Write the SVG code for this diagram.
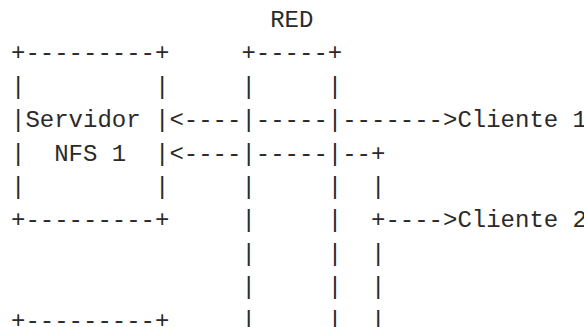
<svg xmlns="http://www.w3.org/2000/svg" width="584" height="327" viewBox="0 0 584 327">
  <style>
    text { font-family: "Liberation Mono", "DejaVu Sans Mono", monospace; font-size: 24px; fill: #2a2a2a; white-space: pre; }
  </style>
  <rect width="584" height="327" fill="#ffffff"/>
  <!-- monospace grid: column x = 11 + 14.4*c, row baseline y = 27 + 33.4*r -->
  <g id="servidor-nfs">
    <text x="11" y="60.4">+---------+</text>
    <text x="11" y="93.8">|         |</text>
    <text x="11" y="127.2">|Servidor |</text>
    <text x="11" y="160.6">|  NFS 1  |</text>
    <text x="11" y="194">|         |</text>
    <text x="11" y="227.4">+---------+</text>
    <text x="11" y="327.6">+---------+</text>
  </g>
  <g id="red">
    <text x="270.2" y="27">RED</text>
    <text x="241.4" y="60.4">+-----+</text>
    <text x="241.4" y="93.8">|     |</text>
    <text x="241.4" y="127.2">|</text>
    <text x="327.8" y="127.2">|</text>
    <text x="241.4" y="160.6">|</text>
    <text x="327.8" y="160.6">|</text>
    <text x="241.4" y="194">|     |</text>
    <text x="241.4" y="227.4">|     |</text>
    <text x="241.4" y="260.8">|     |</text>
    <text x="241.4" y="294.2">|     |</text>
    <text x="241.4" y="327.6">|     |</text>
  </g>
  <g id="conexiones">
    <text x="169.4" y="127.2">&lt;----</text>
    <text x="169.4" y="160.6">&lt;----</text>
    <text x="255.8" y="127.2">-----</text>
    <text x="255.8" y="160.6">-----</text>
    <text x="342.2" y="127.2">-------&gt;</text>
    <text x="342.2" y="160.6">--+</text>
    <text x="371" y="194">|</text>
    <text x="371" y="227.4">+----&gt;</text>
    <text x="371" y="260.8">|</text>
    <text x="371" y="294.2">|</text>
    <text x="371" y="327.6">|</text>
  </g>
  <g id="cliente-1">
    <text x="457.4" y="127.2">Cliente 1</text>
  </g>
  <g id="cliente-2">
    <text x="457.4" y="227.4">Cliente 2</text>
  </g>
</svg>
